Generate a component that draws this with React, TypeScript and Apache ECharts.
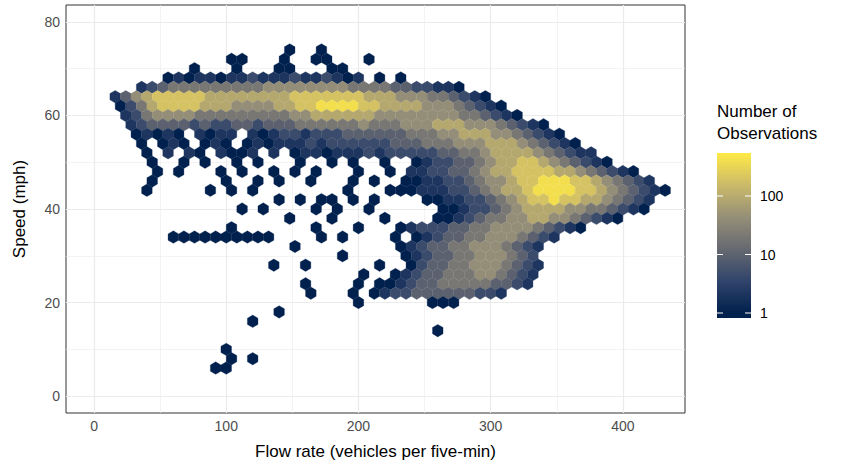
import React, { useEffect, useRef } from "react";
import * as echarts from "echarts";

// Hex rows: [speed (mph), first flow centre, levels per hex step of 8 flow units; '.' = empty]
const hexRows: [number, number, string][] = [
  [74, 148, "1..1"],
  [72, 104, "11...1..11...1"],
  [70, 76, "1...1...11...11"],
  [68, 56, "1212212232223223212.1.1"],
  [66, 36, "2345555555556666666655554433221"],
  [64, 16, "246788888777777778888888777666554321"],
  [62, 20, "1357888877766667788999988777766654321"],
  [60, 24, "23566665555555556677777766666666554321"],
  [58, 28, "2344443433443444555555655566677766654321"],
  [56, 32, "12121.2122.212332333444444555667776654321"],
  [54, 36, "1.121.121.12122232333333444555666777654321"],
  [52, 40, "1.2.21.2112.2.12212223233333445567777654322"],
  [50, 44, "1..1.1..1.1...1..1.1..1..1233445677887654321"],
  [48, 48, "1.1...1.1..1.1.1...1..1.2233445677888877654321"],
  [46, 44, "1......1..1.1..1...1.1..112233456678899988765432"],
  [44, 40, "1.....1.1.1........1...111222334567789999887654321"],
  [42, 140, "1.1.11.1.1....1122334567889887765432"],
  [40, 112, "1.1....1.1..1......11233456777766554321"],
  [38, 148, "1...1....1....112345566776654321"],
  [36, 104, "1.......1...1...123334455666654321"],
  [34, 60, "1111111111....1.1....1.12344556665432"],
  [32, 152, "1.........12344556665432"],
  [30, 188, "1.....1234455666543"],
  [28, 136, "1..1......1..1344556665432"],
  [26, 204, "1..12344555665432"],
  [24, 160, "1....1.112344555554432"],
  [22, 164, "1...1.1233444444332"],
  [20, 200, "1......111"],
  [18, 140, "1"],
  [16, 120, "1"],
  [14, 260, "1"],
  [10, 100, "1"],
  [8, 104, "1.1"],
  [6, 92, "11"],
];
const xTicks = [0, 100, 200, 300, 400];
const yTicks = [0, 20, 40, 60, 80];
const xMinor = [50, 150, 250, 350];
const yMinor = [10, 30, 50, 70];
const legendTicks = [1, 10, 100];

const cividis = ["#00204D", "#31446B", "#666970", "#958F78", "#CBBA69", "#FFEA46"];
const LOGMAX = 2.73;

const hexData: number[][] = [];
hexRows.forEach(([y, x0, s]) => {
  for (let i = 0; i < s.length; i++) {
    const c = s[i];
    if (c === ".") continue;
    const L = Number(c);
    const logCount = ((L - 1) * 2.6) / 8;
    hexData.push([x0 + 8 * i, y, logCount]);
  }
});

export default function App() {
  const ref = useRef<HTMLDivElement>(null);
  useEffect(() => {
    document.body.style.margin = "0";
    const chart = echarts.init(ref.current!, null, { renderer: "svg" });
    const font = "Liberation Sans, Arial, sans-serif";
    const barTop = 153, barBot = 318, barX = 717, barW = 34;
    const legY = (v: number) => 313 - Math.log10(v) * 58.5;
    const graphics: any[] = [
      { type: "text", left: 717, top: 100, style: { text: "Number of\nObservations", fontSize: 17, fontFamily: font, fill: "#000", lineHeight: 22 } },
      {
        type: "rect", shape: { x: barX, y: barTop, width: barW, height: barBot - barTop },
        style: {
          fill: new echarts.graphic.LinearGradient(0, 0, 0, 1,
            cividis.slice().reverse().map((c, i) => ({ offset: (i / (cividis.length - 1)) * ((313 - barTop) / (barBot - barTop)), color: c })).concat([{ offset: 1, color: cividis[0] }])),
        },
      },
    ];
    legendTicks.forEach((v) => {
      const yy = legY(v);
      graphics.push({ type: "line", shape: { x1: barX, y1: yy, x2: barX + 6, y2: yy }, style: { stroke: "#fff", lineWidth: 1 } });
      graphics.push({ type: "line", shape: { x1: barX + barW - 6, y1: yy, x2: barX + barW, y2: yy }, style: { stroke: "#fff", lineWidth: 1 } });
      graphics.push({ type: "text", x: 760, y: yy, style: { text: String(v), fontSize: 14, fontFamily: font, fill: "#000", verticalAlign: "middle" } });
    });

    const gridLine = (axis: "xAxis" | "yAxis", vals: number[], w: number) =>
      vals.map((v) => ({ [axis]: v, lineStyle: { color: "#EBEBEB", width: w, type: "solid" } }));

    chart.setOption({
      animation: false,
      grid: { left: 66, right: 159, top: 5, bottom: 55, show: true, borderColor: "#333", borderWidth: 1, backgroundColor: "#fff", z: 0 },
      xAxis: {
        type: "value", min: -21.2, max: 447, splitLine: { show: false },
        axisLine: { show: false },
        axisTick: { show: true, customValues: xTicks, length: 4, lineStyle: { color: "#333" } },
        axisLabel: { customValues: xTicks, color: "#4D4D4D", fontSize: 14, fontFamily: font, margin: 6 },
        name: "Flow rate (vehicles per five-min)", nameLocation: "middle", nameGap: 30,
        nameTextStyle: { fontSize: 17, fontFamily: font, color: "#000" },
      },
      yAxis: {
        type: "value", min: -3.6, max: 83.6, splitLine: { show: false },
        axisLine: { show: false },
        axisTick: { show: true, customValues: yTicks, length: 4, lineStyle: { color: "#333" } },
        axisLabel: { customValues: yTicks, color: "#4D4D4D", fontSize: 14, fontFamily: font, margin: 6 },
        name: "Speed (mph)", nameLocation: "middle", nameGap: 38,
        nameTextStyle: { fontSize: 17, fontFamily: font, color: "#000" },
      },
      visualMap: { show: false, type: "continuous", dimension: 2, min: 0, max: LOGMAX, inRange: { color: cividis }, seriesIndex: 1 },
      series: [
        {
          type: "line", data: [], silent: true, z: 1,
          markLine: {
            silent: true, symbol: "none", label: { show: false }, animation: false, z: 1,
            data: [
              ...gridLine("xAxis", xMinor, 0.6), ...gridLine("yAxis", yMinor, 0.6),
              ...gridLine("xAxis", xTicks, 1.2), ...gridLine("yAxis", yTicks, 1.2),
            ],
          },
        },
        {
          type: "custom", data: hexData, encode: { x: 0, y: 1 }, z: 5,
          renderItem: (params: any, api: any) => {
            const c = api.coord([api.value(0), api.value(1)]);
            const s = api.size([4, 4 / 3]);
            const w = s[0], r = s[1];
            const pts = [[0, -r], [w, -r / 2], [w, r / 2], [0, r], [-w, r / 2], [-w, -r / 2]].map((p) => [c[0] + p[0], c[1] + p[1]]);
            const col = api.visual("color");
            return { type: "polygon", shape: { points: pts }, style: { fill: col, stroke: col, lineWidth: 0.3 } };
          },
        },
      ],
      graphic: graphics,
    });
    return () => chart.dispose();
  }, []);
  return <div ref={ref} style={{ width: 844, height: 468 }} />;
}
